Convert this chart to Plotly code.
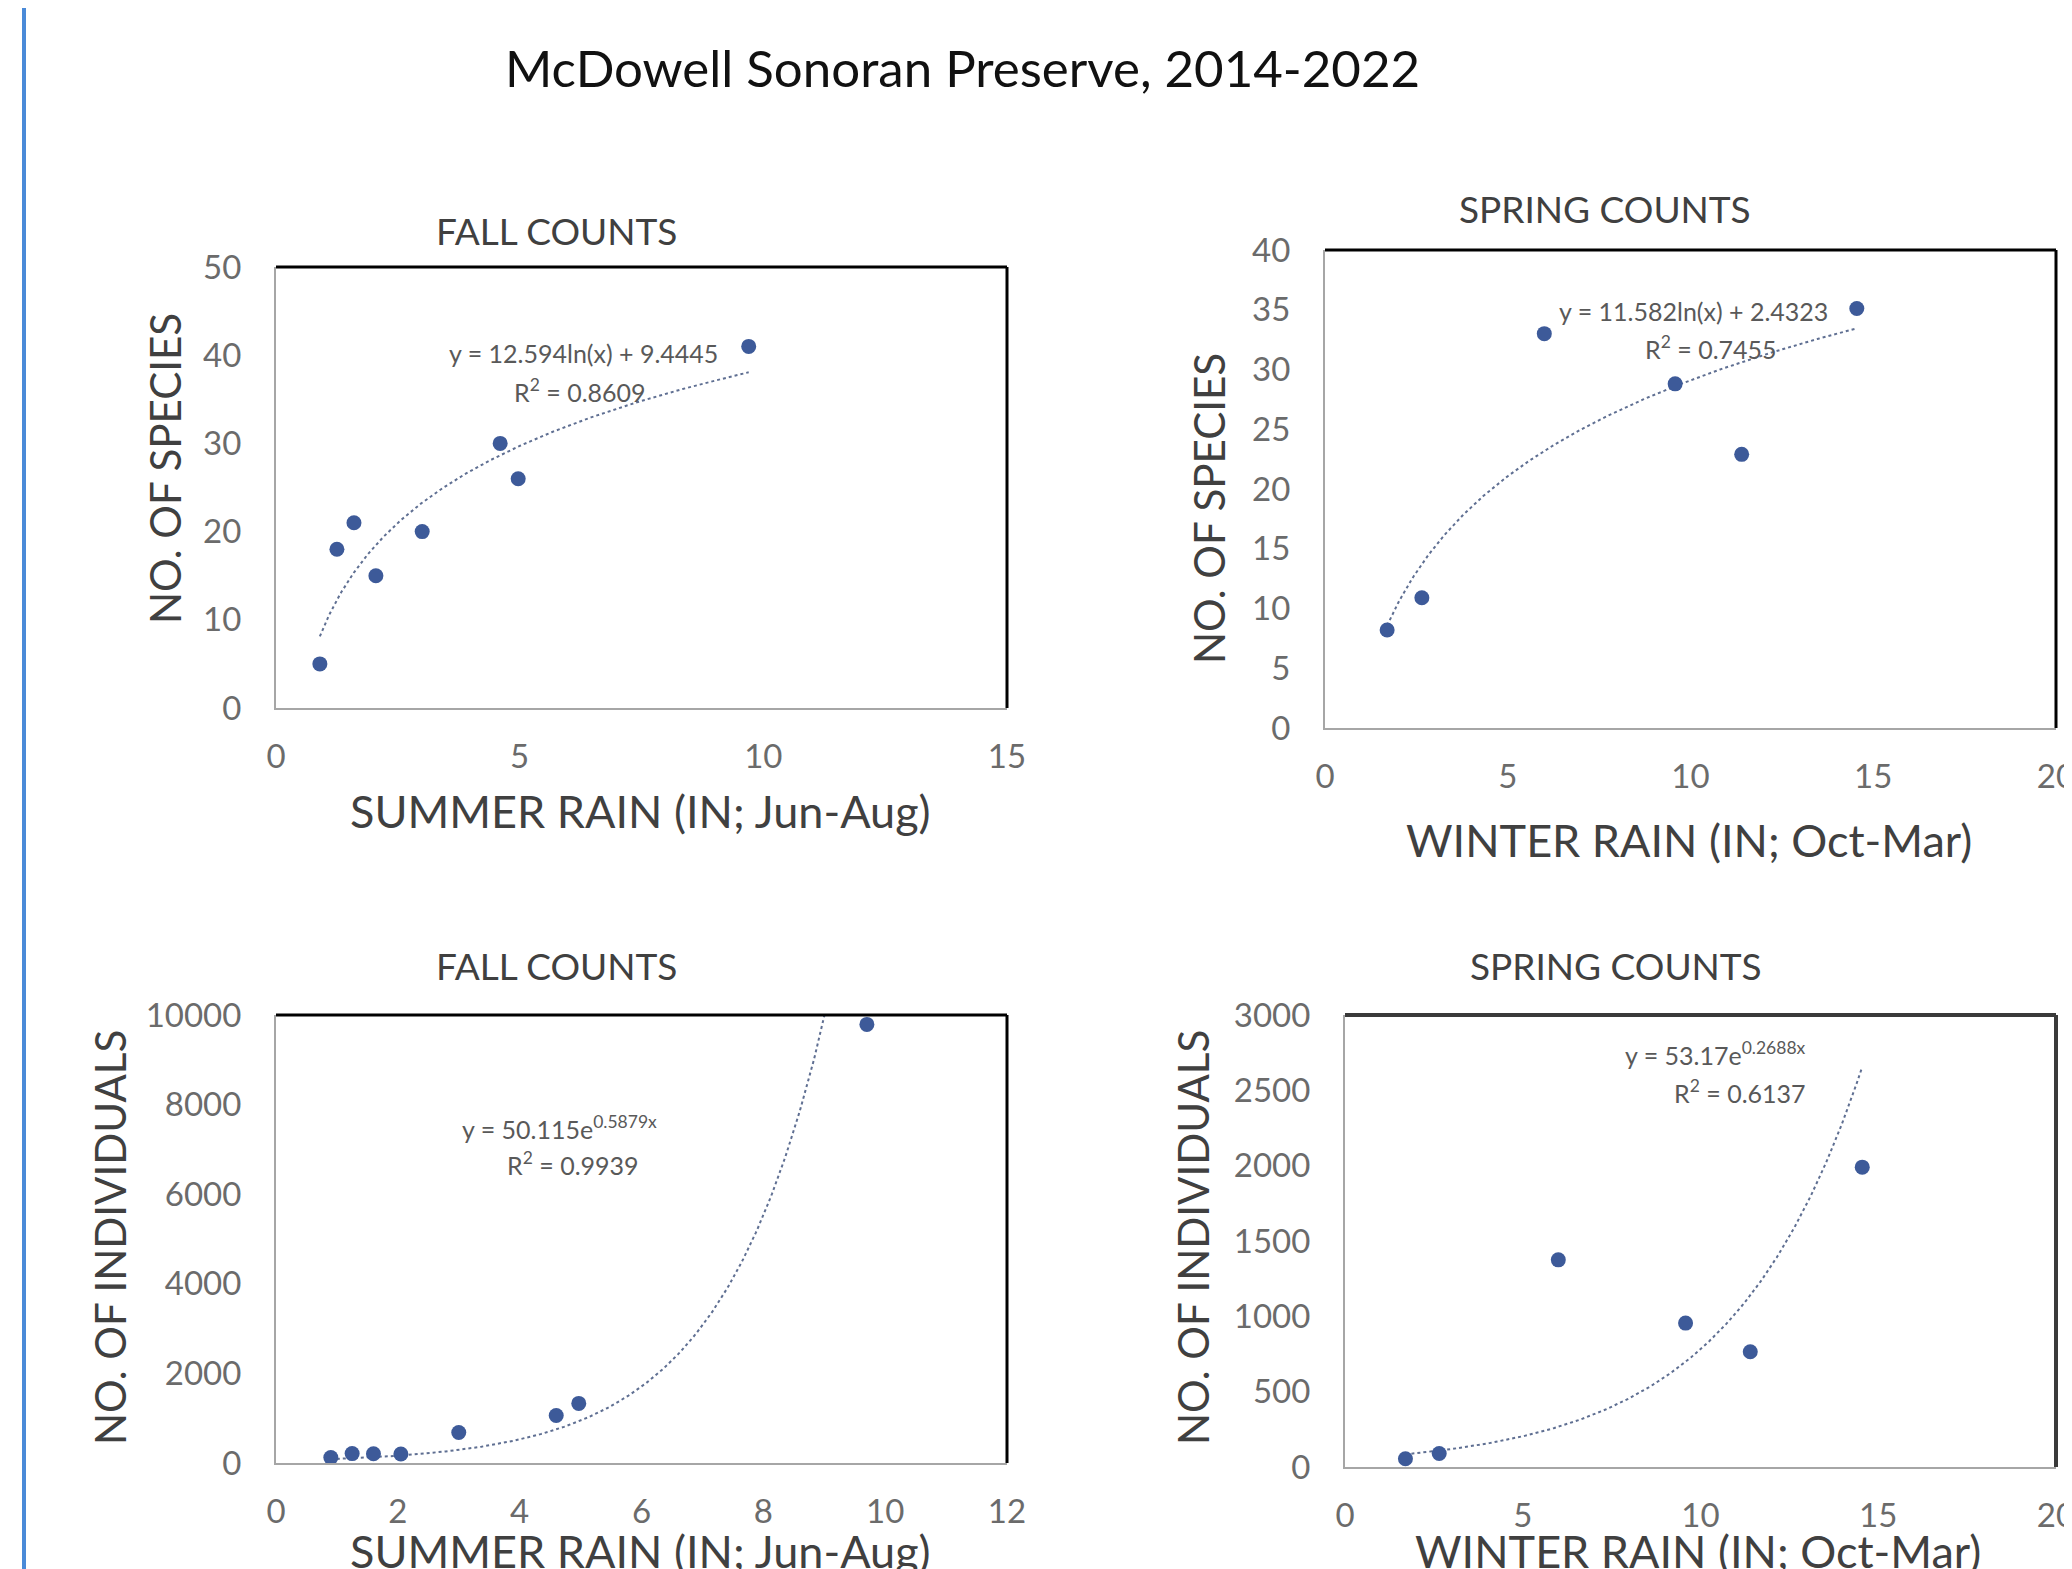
import numpy as np
import plotly.graph_objects as go

W, H = 2072, 1569
FONT = "Lato"
OFF = 8  # page body margin in the browser

# ---------------- data ----------------
summer_rain = [0.9, 1.25, 1.6, 2.05, 3.0, 4.6, 4.97, 9.7]
fall_species = [5, 18, 21, 15, 20, 30, 26, 41]
fall_individuals = [120, 210, 205, 200, 680, 1060, 1330, 9790]

winter_rain = [1.7, 2.65, 6.0, 9.58, 11.4, 14.55]
spring_species = [8.2, 10.9, 33, 28.8, 22.9, 35.1]
spring_individuals = [55, 90, 1375, 955, 765, 1990]

# trendline coefficients as printed on the chart
fall_sp_a, fall_sp_b = 12.594, 9.4445          # y = a ln(x) + b
spring_sp_a, spring_sp_b = 11.582, 2.4323      # y = a ln(x) + b
fall_ind_a, fall_ind_b = 50.115, 0.5879        # y = a e^(b x)
spring_ind_a, spring_ind_b = 53.17, 0.2688     # y = a e^(b x)

eq_texts = [
    "y = 12.594ln(x) + 9.4445", "R<sup>2</sup> = 0.8609",
    "y = 11.582ln(x) + 2.4323", "R<sup>2</sup> = 0.7455",
    "y = 50.115e<sup>0.5879x</sup>", "R<sup>2</sup> = 0.9939",
    "y = 53.17e<sup>0.2688x</sup>", "R<sup>2</sup> = 0.6137",
]

MARKER = "#3d5a99"
TREND = "#5f6f92"
TICK = "#6b6b6b"
TITLE_C = "#404040"


def px(x):
    return (x - OFF) / W


def py(y):
    return 1 - (y - OFF) / H


fig = go.Figure()

panels = [
    (summer_rain, fall_species, "log", fall_sp_a, fall_sp_b, (276, 1007), (267, 708), [0, 15], 5, [0, 50], 10),
    (winter_rain, spring_species, "log", spring_sp_a, spring_sp_b, (1325, 2056), (250, 728), [0, 20], 5, [0, 40], 5),
    (summer_rain, fall_individuals, "exp", fall_ind_a, fall_ind_b, (276, 1007), (1015, 1463), [0, 12], 2, [0, 10000], 2000),
    (winter_rain, spring_individuals, "exp", spring_ind_a, spring_ind_b, (1345, 2056), (1015, 1467), [0, 20], 5, [0, 3000], 500),
]

for i, (xs, ys, kind, a, b, xd, yd, xr, xdt, yr, ydt) in enumerate(panels, start=1):
    xa = "x" if i == 1 else f"x{i}"
    ya = "y" if i == 1 else f"y{i}"
    xt = np.linspace(min(xs), max(xs), 300)
    if kind == "log":
        yt = a * np.log(xt) + b
    else:
        yt = a * np.exp(b * xt)
    fig.add_trace(go.Scatter(x=xt, y=yt, mode="lines", xaxis=xa, yaxis=ya,
                             line=dict(color=TREND, width=2, dash="dot"),
                             showlegend=False, hoverinfo="skip"))
    fig.add_trace(go.Scatter(x=xs, y=ys, mode="markers", xaxis=xa, yaxis=ya,
                             marker=dict(color=MARKER, size=15),
                             showlegend=False))
    axis_common = dict(showgrid=False, zeroline=False, showline=True,
                       linecolor="#a6a6a6", linewidth=2, ticks="",
                       tickfont=dict(family=FONT, size=33, color=TICK),
                       tickformat="d", automargin=False,
                       ticklabeloverflow="allow")
    fig.layout[f"xaxis{'' if i == 1 else i}"] = dict(
        domain=[px(xd[0]), px(xd[1])], range=xr, dtick=xdt, tick0=0,
        anchor=ya, ticklabelstandoff=18, **axis_common)
    fig.layout[f"yaxis{'' if i == 1 else i}"] = dict(
        domain=[py(yd[1]), py(yd[0])], range=yr, dtick=ydt, tick0=0,
        anchor=xa, ticklabelstandoff=26, **axis_common)
    border = "#000000" if i < 4 else "#3a3a3a"
    bw = 3 if i < 4 else 4
    xref_d = f"{xa} domain"
    yref_d = f"{ya} domain"
    fig.add_shape(type="line", xref=xref_d, yref=yref_d, x0=0, x1=1, y0=1, y1=1,
                  line=dict(color=border, width=bw))
    fig.add_shape(type="line", xref=xref_d, yref=yref_d, x0=1, x1=1, y0=0, y1=1,
                  line=dict(color=border, width=bw))

annotations = []


def ann(text, cx, cy, size, color, angle=0):
    annotations.append(dict(text=text, x=px(cx), y=py(cy), xref="paper", yref="paper",
                            xanchor="center", yanchor="middle", showarrow=False,
                            textangle=angle,
                            font=dict(family=FONT, size=size, color=color)))


ann("McDowell Sonoran Preserve, 2014-2022", 962, 68, 51, "#111111")

for txt, (cx, cy) in [("FALL COUNTS", (556, 231)), ("SPRING COUNTS", (1605, 209)),
                      ("FALL COUNTS", (556, 965)), ("SPRING COUNTS", (1616, 965))]:
    ann(txt, cx, cy, 37, TITLE_C)

for txt, (cx, cy) in [("SUMMER RAIN (IN; Jun-Aug)", (641, 811)),
                      ("WINTER RAIN (IN; Oct-Mar)", (1689, 840)),
                      ("SUMMER RAIN (IN; Jun-Aug)", (641, 1551)),
                      ("WINTER RAIN (IN; Oct-Mar)", (1698, 1551))]:
    ann(txt, cx, cy, 45, TITLE_C)

for txt, (cx, cy) in [("NO. OF SPECIES", (165, 469)), ("NO. OF SPECIES", (1209, 509)),
                      ("NO. OF INDIVIDUALS", (110, 1238)), ("NO. OF INDIVIDUALS", (1193, 1238))]:
    ann(txt, cx, cy, 42, TITLE_C, -90)

eq_pos = [(583, 353), (580, 390), (1693, 311), (1711, 348),
          (559, 1127), (573, 1163), (1715, 1053), (1740, 1091)]
for txt, (cx, cy) in zip(eq_texts, eq_pos):
    ann(txt, cx, cy, 25, "#595959")

fig.update_layout(
    width=W, height=H,
    margin=dict(l=0, r=0, t=0, b=0, autoexpand=False),
    paper_bgcolor="white", plot_bgcolor="white",
    annotations=annotations,
)

fig.add_shape(type="line", xref="paper", yref="paper", x0=px(24), x1=px(24), y0=0, y1=1,
              line=dict(color="#4a8ad8", width=4))

fig.write_html("out.html")
